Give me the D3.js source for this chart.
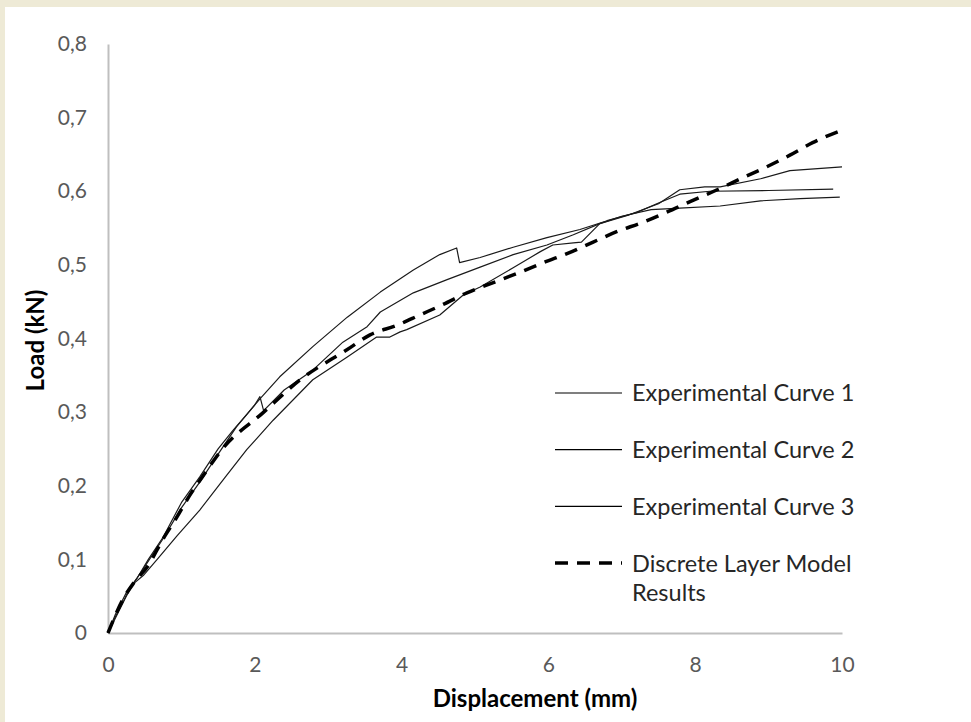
<!DOCTYPE html>
<html>
<head>
<meta charset="utf-8">
<script src="https://cdn.jsdelivr.net/npm/d3@7"></script>
<style>
  body { margin: 0; background: #eeead6; }
  #chart { position: absolute; left: 5px; top: 7px; }
</style>
</head>
<body>
<div id="chart"></div>
<script>

// data: displacement (mm), load (kN)
var curve1 = [
  [0, 0], [0.1, 0.025], [0.25, 0.055], [0.4, 0.075], [0.55, 0.1], [0.75, 0.13],
  [1.0, 0.177], [1.25, 0.212], [1.5, 0.25], [1.7, 0.275], [1.9, 0.298], [2.07, 0.318],
  [2.34, 0.348], [2.79, 0.389], [3.26, 0.429], [3.71, 0.463], [4.16, 0.493],
  [4.52, 0.514], [4.75, 0.523], [4.79, 0.503], [5.07, 0.51], [5.52, 0.524],
  [5.98, 0.537], [6.43, 0.548], [6.8, 0.56], [7.2, 0.571], [7.5, 0.584],
  [7.79, 0.596], [8.2, 0.6], [9.0, 0.601], [9.88, 0.603]
];
var curve2 = [
  [0, 0], [0.1, 0.022], [0.25, 0.05], [0.35, 0.068], [0.5, 0.09], [0.75, 0.128],
  [1.0, 0.17], [1.25, 0.205], [1.5, 0.243], [1.75, 0.28], [2.0, 0.31], [2.07, 0.321],
  [2.12, 0.302], [2.4, 0.33], [2.79, 0.357], [3.2, 0.395], [3.53, 0.416],
  [3.71, 0.436], [4.16, 0.462], [4.62, 0.48], [5.07, 0.497], [5.52, 0.514],
  [5.98, 0.527], [6.34, 0.541], [6.7, 0.556], [7.1, 0.568], [7.5, 0.583],
  [7.79, 0.602], [8.13, 0.606], [8.34, 0.606], [8.89, 0.617], [9.29, 0.628], [10, 0.633]
];
var curve3 = [
  [0, 0], [0.1, 0.02], [0.2, 0.04], [0.3, 0.063], [0.48, 0.078], [0.67, 0.1],
  [0.94, 0.132], [1.25, 0.167], [1.6, 0.212], [1.89, 0.249], [2.25, 0.289],
  [2.79, 0.344], [3.26, 0.375], [3.66, 0.402], [3.84, 0.402], [3.98, 0.409],
  [4.07, 0.412], [4.52, 0.432], [4.84, 0.459], [5.07, 0.47], [5.52, 0.496],
  [5.89, 0.518], [6.06, 0.527], [6.34, 0.53], [6.45, 0.531], [6.7, 0.556],
  [7.0, 0.566], [7.4, 0.575], [7.79, 0.577], [8.34, 0.58], [8.89, 0.587],
  [9.43, 0.59], [9.97, 0.592]
];
var model = [
  [0, 0], [0.2, 0.045], [0.35, 0.068], [0.55, 0.092], [0.74, 0.126], [0.93, 0.156],
  [1.12, 0.188], [1.32, 0.217], [1.55, 0.249], [2.11, 0.299], [2.62, 0.344],
  [3.26, 0.385], [3.57, 0.405], [3.94, 0.418], [4.25, 0.432], [4.56, 0.446],
  [4.89, 0.462], [5.25, 0.476], [5.59, 0.489], [5.93, 0.503], [6.27, 0.516],
  [6.61, 0.531], [6.93, 0.545], [7.29, 0.558], [7.62, 0.572], [7.93, 0.586],
  [8.3, 0.602], [8.64, 0.618], [8.95, 0.632], [9.29, 0.649], [9.6, 0.666], [10, 0.683]
];

var seriesNames = ["Experimental Curve 1", "Experimental Curve 2", "Experimental Curve 3", "Discrete Layer Model Results"];
var xTicks = [0, 2, 4, 6, 8, 10];
var yTicks = [0, 0.1, 0.2, 0.3, 0.4, 0.5, 0.6, 0.7, 0.8];

// set the dimensions and margins of the graph (svg sits at 5,7 in the page)
var margin = { top: 37, right: 129, bottom: 89, left: 103 };
var width = 966 - margin.left - margin.right;
var height = 715 - margin.top - margin.bottom;

var svg = d3.select("#chart")
  .append("svg")
  .attr("width", width + margin.left + margin.right)
  .attr("height", height + margin.top + margin.bottom)
  .style("background", "#ffffff")
  .append("g")
  .attr("transform", "translate(" + margin.left + "," + margin.top + ")");

var x = d3.scaleLinear().domain([0, 10]).range([0, width]);
var y = d3.scaleLinear().domain([0, 0.8]).range([height, 0]);

var fmt = function (d) { return d3.format(".1~f")(d).replace(".", ","); };

// axes without tick marks
var xAxis = svg.append("g")
  .attr("transform", "translate(0," + height + ")")
  .call(d3.axisBottom(x).tickValues(xTicks).tickSize(0).tickPadding(24).tickFormat(d3.format("d")));
var yAxis = svg.append("g")
  .call(d3.axisLeft(y).tickValues(yTicks).tickSize(0).tickPadding(21).tickFormat(fmt));

[xAxis, yAxis].forEach(function (a) {
  a.select(".domain").attr("stroke", "#bfbfbf").attr("stroke-width", 2);
  a.selectAll("text")
    .attr("fill", "#595959")
    .style("font-family", "Lato, 'Open Sans', sans-serif")
    .style("font-size", "21px");
});
xAxis.selectAll("text").attr("dy", "0.71em");

// axis titles
svg.append("text")
  .attr("x", 427)
  .attr("y", height + 74)
  .attr("text-anchor", "middle")
  .style("font-family", "Lato, sans-serif")
  .style("font-weight", "bold")
  .style("font-size", "24px")
  .attr("fill", "#000")
  .text("Displacement (mm)");

svg.append("text")
  .attr("transform", "translate(" + (-64) + "," + (height / 2 + 2) + ") rotate(-90)")
  .attr("text-anchor", "middle")
  .style("font-family", "Lato, sans-serif")
  .style("font-weight", "bold")
  .style("font-size", "24px")
  .attr("fill", "#000")
  .text("Load (kN)");

// lines
var line = d3.line()
  .x(function (d) { return x(d[0]); })
  .y(function (d) { return y(d[1]); });

[curve1, curve2, curve3].forEach(function (c) {
  svg.append("path")
    .datum(c)
    .attr("fill", "none")
    .attr("stroke", "#1a1a1a")
    .attr("stroke-width", 1.2)
    .attr("stroke-linejoin", "round")
    .attr("d", line);
});

svg.append("path")
  .datum(model)
  .attr("fill", "none")
  .attr("stroke", "#000")
  .attr("stroke-width", 3.5)
  .attr("stroke-dasharray", "13,9")
  .attr("d", line.curve(d3.curveMonotoneX));

// legend
var legend = svg.append("g")
  .attr("transform", "translate(447,349)");

seriesNames.forEach(function (name, i) {
  var row = legend.append("g").attr("transform", "translate(0," + (i * 56.7) + ")");
  row.append("line")
    .attr("x1", 0).attr("x2", 67)
    .attr("stroke", "#000")
    .attr("stroke-width", i === 3 ? 3.5 : 1.2)
    .attr("stroke-dasharray", i === 3 ? "13,9" : null);
  var t = row.append("text")
    .attr("x", 77)
    .attr("dy", "0.36em")
    .attr("fill", "#262626")
    .style("font-family", "Lato, sans-serif")
    .style("font-size", "23.5px");
  if (i === 3) {
    t.append("tspan").attr("x", 77).text("Discrete Layer Model");
    t.append("tspan").attr("x", 77).attr("dy", "1.25em").text("Results");
  } else {
    t.text(name);
  }
});

</script>
</body>
</html>
